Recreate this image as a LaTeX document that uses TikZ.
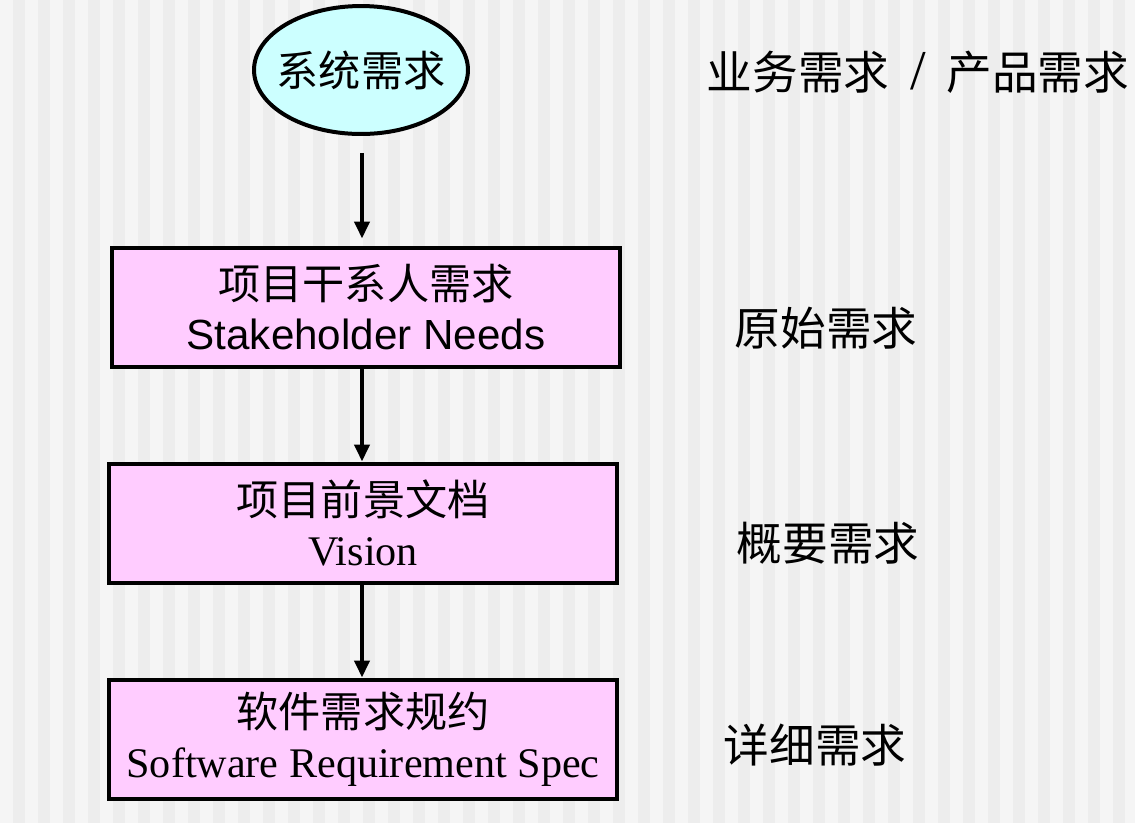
\documentclass[tikz,border=0pt]{standalone}
\usepackage{fontspec}
\setmainfont{Liberation Serif}
\newfontfamily\cjk{Noto Sans CJK SC}
\newfontfamily\arialfont{Liberation Sans}
\definecolor{reqpink}{RGB}{255,204,255}
\definecolor{reqcyan}{RGB}{204,255,255}
\definecolor{bggray}{RGB}{245,245,245}
\definecolor{stripegray}{RGB}{237,237,237}
\usetikzlibrary{shapes,arrows.meta,positioning}

\begin{document}
\begin{tikzpicture}[x=0.02cm, y=-0.02cm,
    sysreq/.style={draw, ellipse, line width=0.08cm, fill=reqcyan, inner sep=0pt, minimum width=4.28cm, minimum height=2.56cm},
    reqbox/.style={draw, line width=0.08cm, fill=reqpink, minimum width=10.18cm, minimum height=2.38cm, align=center, font=\fontsize{24}{28.5}\selectfont},
    reqlabel/.style={font=\cjk\fontsize{26}{30}\selectfont},
    flow/.style={-{Triangle[length=0.34cm,width=0.3cm]}, line width=0.08cm}]
    \useasboundingbox (0,0) rectangle (1135,823);

    % Striped background
    \fill[bggray] (0,0) rectangle (1135,823);
    \foreach \sx in {13,38,...,1135}
        \fill[stripegray] (\sx,0) rectangle (\sx+12,823);

    % System requirement
    \node[sysreq, label={[font=\cjk\fontsize{24}{28.5}\selectfont]center:系统需求}] (sys) at (361,70) {};
    \coordinate (flowtop) at (362,153);

    % Requirement documents
    \node[reqbox] (needs) at (366,307) {{\cjk 项目干系人需求}\\{\arialfont Stakeholder Needs}};
    \node[reqbox] (vision) at (363,523) {{\cjk 项目前景文档}\\Vision};
    \node[reqbox] (srs) at (363,739) {{\cjk 软件需求规约}\\Software Requirement Spec};

    % Levels
    \node[reqlabel] (bizlbl) at (918,72) {业务需求\hspace{0.45em}{\rmfamily\fontsize{32}{32}\selectfont /}\hspace{0.45em}产品需求};
    \node[reqlabel] (rawlbl) at (826,328) {原始需求};
    \node[reqlabel] (sumlbl) at (828,543) {概要需求};
    \node[reqlabel] (detlbl) at (815,745) {详细需求};

    % Connections
    \draw[flow, shorten >=0.14cm] (flowtop) -- (flowtop |- needs.north);
    \draw[flow] (needs.south -| flowtop) -- (vision.north -| flowtop);
    \draw[flow] (vision.south -| flowtop) -- (srs.north -| flowtop);
\end{tikzpicture}
\end{document}
